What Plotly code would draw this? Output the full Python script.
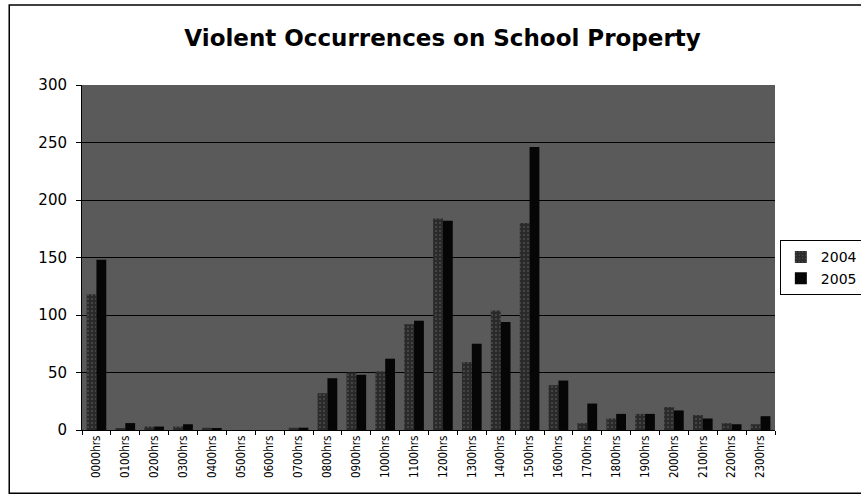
import plotly.graph_objects as go

hours = ["0000hrs", "0100hrs", "0200hrs", "0300hrs", "0400hrs", "0500hrs",
         "0600hrs", "0700hrs", "0800hrs", "0900hrs", "1000hrs", "1100hrs",
         "1200hrs", "1300hrs", "1400hrs", "1500hrs", "1600hrs", "1700hrs",
         "1800hrs", "1900hrs", "2000hrs", "2100hrs", "2200hrs", "2300hrs"]
y2004 = [118, 1, 3, 3, 2, 0, 0, 2, 32, 50, 51, 92, 184, 59, 104, 180,
         39, 6, 10, 14, 20, 13, 6, 5]
y2005 = [148, 6, 3, 5, 1, 0, 0, 2, 45, 48, 62, 95, 182, 75, 94, 246,
         43, 23, 14, 14, 17, 10, 5, 12]
y_ticks = [0, 50, 100, 150, 200, 250, 300]

fig = go.Figure()
fig.add_trace(go.Bar(name="2004", x=hours, y=y2004,
                     marker=dict(color="#2a2a2a", line=dict(width=0),
                                 pattern=dict(shape=".", fgcolor="#6e6e6e",
                                              size=4, solidity=0.2))))
fig.add_trace(go.Bar(name="2005", x=hours, y=y2005,
                     marker=dict(color="#060606", line=dict(width=0))))

fig.update_layout(
    width=861, height=501,
    margin=dict(l=82, r=86, t=85, b=71, autoexpand=False),
    paper_bgcolor="white",
    plot_bgcolor="#5a5a5a",
    barmode="group",
    bargap=0.32,
    bargroupgap=0.0,
    font=dict(family="DejaVu Sans, sans-serif", color="black"),
    title=dict(text="<b>Violent Occurrences on School Property</b>",
               x=0.514, xanchor="center", y=0.924, yanchor="middle",
               font=dict(size=23)),
    legend=dict(x=1.007, y=0.47, xanchor="left", yanchor="middle",
                bordercolor="black", borderwidth=1, bgcolor="white",
                font=dict(size=14), itemwidth=30, tracegroupgap=2),
    shapes=[dict(type="rect", xref="paper", yref="paper",
                 x0=-0.105, x1=1.13, y0=-0.183, y1=1.232,
                 line=dict(color="black", width=1.5))],
)
fig.update_xaxes(
    tickangle=-90,
    tickfont=dict(size=11.5, family="DejaVu Sans Condensed, sans-serif"),
    showline=True, linecolor="black", linewidth=1,
    ticks="outside", tickson="boundaries", ticklen=4, tickcolor="black",
    showgrid=False,
)
fig.update_yaxes(
    range=[0, 300], tickvals=y_ticks, tickfont=dict(size=15),
    ticklabelstandoff=6,
    showline=True, linecolor="black", linewidth=1,
    ticks="outside", ticklen=5, tickcolor="black",
    showgrid=True, gridcolor="black", gridwidth=1, zeroline=False,
)

fig.write_html("out.html")
